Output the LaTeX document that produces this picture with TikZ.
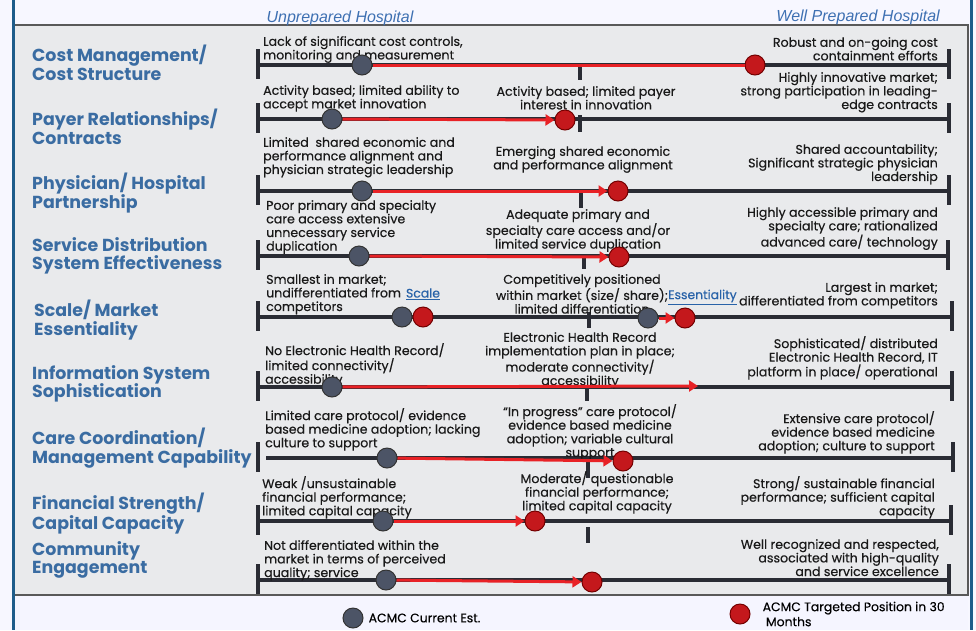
\documentclass[tikz,border=0pt]{standalone}
\usepackage{fontspec}
\setmainfont{Poppins}
\newfontfamily\descfont[FakeBold=0.35]{Poppins}
\newfontfamily\headfont{Liberation Sans}
\usetikzlibrary{arrows.meta,positioning}

\definecolor{catblue}{RGB}{58,108,162}
\definecolor{headblue}{RGB}{62,112,178}
\definecolor{linkblue}{RGB}{40,98,168}
\definecolor{panelgray}{RGB}{233,234,236}
\definecolor{barblack}{RGB}{42,44,52}
\definecolor{dotslate}{RGB}{76,84,102}
\definecolor{dotred}{RGB}{196,24,28}
\definecolor{movered}{RGB}{232,34,38}
\definecolor{frameblue}{RGB}{30,92,138}

\tikzset{
  bar/.style={line width=4.5pt, color=barblack},
  barmark/.style={line width=4.5pt, color=barblack},
  curdot/.style={circle, minimum size=20pt, inner sep=0pt, fill=dotslate, draw=black!80, line width=1pt},
  tgtdot/.style={circle, minimum size=20pt, inner sep=0pt, fill=dotred, draw=red!45!black, line width=1pt},
  move/.style={line width=3pt, color=movered, -{Triangle[length=9pt,width=11pt]}},
  catlabel/.style={anchor=north west, align=left, inner sep=0pt, text=catblue, font=\fontsize{17.4}{18.6}\selectfont\bfseries},
  desc/.style={inner sep=0pt, text=black!90, font=\descfont\fontsize{12.6}{13.6}\selectfont},
  ldesc/.style={desc, anchor=north west, align=left},
  mdesc/.style={desc, anchor=north, align=center},
  rdesc/.style={desc, anchor=north east, align=right},
  headlabel/.style={inner sep=0pt, text=headblue, font=\headfont\itshape\fontsize{16}{18}\selectfont},
  linklabel/.style={inner sep=0pt, text=linkblue, font=\descfont\fontsize{12.4}{13}\selectfont},
  legtext/.style={inner sep=0pt, align=left, font=\descfont\fontsize{12.4}{15}\selectfont}
}
\def\endmark(#1){\draw[barmark] ([yshift=16pt]#1) -- ([yshift=-14pt]#1);}

\begin{document}
\begin{tikzpicture}[x=1pt,y=-1pt]
  \useasboundingbox (0,0) rectangle (976,630);

  %%%%% FRAME %%%%%
  \fill[white!97!blue] (0,0) rectangle (976,630);
  \fill[blue!4!white] (13,595) rectangle (968,630);
  \draw[line width=1.5pt, color=black!65, fill=panelgray] (13,25) rectangle (968,595);
  \draw[line width=3pt, color=frameblue] (13,0) -- (13,630);
  \draw[line width=3pt, color=frameblue] (971,0) -- (971,630);

  \node[headlabel] (unprep) at (340,18) {Unprepared Hospital};
  \node[headlabel, anchor=east] (wellprep) at (940,17) {Well Prepared Hospital};

  %%%%% COST %%%%%
  \node[catlabel] (costcat) at (32,45) {Cost Management/\\Cost Structure};
  \coordinate (costL) at (258,65);
  \coordinate (costR) at (949,65);
  \draw[bar] (costL) -- (costR);
  \endmark(costL)
  \endmark(costR)
  \draw[barmark] (580,65) -- (580,80);
  \node[ldesc] (costlo) at (263,36) {Lack of significant cost controls,\\monitoring and measurement};
  \node[rdesc] (costhi) at (938,37) {Robust and on-going cost\\containment efforts};
  \node[curdot] (costA) at (362,65) {};
  \node[tgtdot] (costB) at (755,65) {};
  \draw[move, -] (costA) -- (costB);

  %%%%% PAYER %%%%%
  \node[catlabel] (payercat) at (32,109) {Payer Relationships/\\Contracts};
  \coordinate (payerL) at (258,119);
  \coordinate (payerR) at (949,119);
  \draw[bar] (payerL) -- (payerR);
  \endmark(payerL)
  \endmark(payerR)
  \draw[barmark] (580,115) -- (580,132);
  \node[ldesc] (payerlo) at (263,85) {Activity based; limited ability to\\accept market innovation};
  \node[mdesc] (payermid) at (586,86) {Activity based; limited payer\\interest in innovation};
  \node[rdesc] (payerhi) at (938,72) {Highly innovative market;\\strong participation in leading-\\edge contracts};
  \node[curdot] (payerA) at (332,119) {};
  \node[tgtdot] (payerB) at (565,120) {};
  \draw[move] (payerA) -- (payerB);

  %%%%% PHYSICIAN %%%%%
  \node[catlabel] (physcat) at (32,173) {Physician/ Hospital\\Partnership};
  \coordinate (physL) at (258,191);
  \coordinate (physR) at (949,191);
  \draw[bar] (physL) -- (physR);
  \endmark(physL)
  \endmark(physR)
  \draw[barmark] (581,191) -- (581,208);
  \node[ldesc] (physlo) at (263,137) {Limited\ \ shared economic and\\performance alignment and\\physician strategic leadership};
  \node[mdesc] (physmid) at (583,146) {Emerging shared economic\\and performance alignment};
  \node[rdesc] (physhi) at (938,144) {Shared accountability;\\Significant strategic physician\\leadership};
  \node[curdot] (physA) at (362,191) {};
  \node[tgtdot] (physB) at (618,191) {};
  \draw[move] (physA) -- (physB);

  %%%%% SERVICE %%%%%
  \node[catlabel] (servcat) at (32,237) {Service Distribution\\System Effectiveness};
  \coordinate (servL) at (258,256);
  \coordinate (servR) at (948,256);
  \draw[bar] (servL) -- (servR);
  \endmark(servL)
  \endmark(servR)
  \draw[barmark] (584,256) -- (584,269);
  \node[ldesc] (servlo) at (266,200) {Poor primary and specialty\\care access extensive\\unnecessary service\\duplication};
  \node[mdesc] (servmid) at (578,209) {Adequate primary and\\specialty care access and/or\\limited service duplication};
  \node[rdesc] (servhi) at (938,207) {Highly accessible primary and\\specialty care; rationalized\\advanced care/ technology};
  \node[curdot] (servA) at (359,256) {};
  \node[tgtdot] (servB) at (619,257) {};
  \draw[move] (servA) -- (servB);

  %%%%% SCALE %%%%%
  \node[catlabel] (scalecat) at (34,300) {Scale/ Market\\Essentiality};
  \coordinate (scaleL) at (258,317);
  \coordinate (scaleR) at (952,317);
  \draw[bar] (scaleL) -- (scaleR);
  \endmark(scaleL)
  \endmark(scaleR)
  \draw[barmark] (589,312) -- (589,328);
  \node[ldesc] (scalelo) at (266,274) {Smallest in market;\\undifferentiated from\\competitors};
  \node[mdesc] (scalemid) at (582,274) {Competitively positioned\\within market (size/ share);\\limited differentiation};
  \node[rdesc] (scalehi) at (938,282) {Largest in market;\\differentiated from competitors};
  \node[linklabel] (scalelink) at (423,294) {\underline{Scale}};
  \node[linklabel, anchor=west] (esslink) at (668,297) {\underline{Essentiality}};
  \node[curdot] (scaleA) at (402,317) {};
  \node[tgtdot] (scaleB) at (423,317) {};
  \node[curdot] (essA) at (648,318) {};
  \node[tgtdot] (essB) at (685,318) {};
  \draw[move] (essA) -- (essB);

  %%%%% INFORMATION %%%%%
  \node[catlabel] (infocat) at (32,365) {Information System\\Sophistication};
  \coordinate (infoL) at (258,387);
  \coordinate (infoR) at (952,387);
  \draw[bar] (infoL) -- (infoR);
  \endmark(infoL)
  \endmark(infoR)
  \draw[barmark] (587,387) -- (587,401);
  \node[ldesc] (infolo) at (265,343) {No Electronic Health Record/\\limited connectivity/\\accessibility};
  \node[mdesc] (infomid) at (580,332) {Electronic Health Record\\implementation plan in place;\\moderate connectivity/\\accessibility};
  \node[rdesc] (infohi) at (938,336) {Sophisticated/ distributed\\Electronic Health Record, IT\\platform in place/ operational};
  \node[curdot] (infoA) at (332,387) {};
  \coordinate (infoB) at (698,386);
  \draw[move] (infoA) -- (infoB);

  %%%%% CARE %%%%%
  \node[catlabel] (carecat) at (32,428) {Care Coordination/\\Management Capability};
  \coordinate (careL) at (258,458);
  \coordinate (careR) at (953,458);
  \draw[bar] ([xshift=8pt]careL) -- (careR);
  \endmark(careL)
  \endmark(careR)
  \draw[barmark] (588,458) -- (588,478);
  \node[ldesc] (carelo) at (265,408) {Limited care protocol/ evidence\\based medicine adoption; lacking\\culture to support};
  \node[mdesc] (caremid) at (590,404) {“In progress” care protocol/\\evidence based medicine\\adoption; variable cultural\\support};
  \node[rdesc] (carehi) at (935,411) {Extensive care protocol/\\evidence based medicine\\adoption; culture to support};
  \node[curdot] (careA) at (387,458) {};
  \node[tgtdot] (careB) at (623,461) {};
  \draw[move] (careA) -- (careB);

  %%%%% FINANCIAL %%%%%
  \node[catlabel] (fincat) at (32,493) {Financial Strength/\\Capital Capacity};
  \coordinate (finL) at (258,521);
  \coordinate (finR) at (951,521);
  \draw[bar] (finL) -- (finR);
  \endmark(finL)
  \endmark(finR)
  \draw[barmark] (588,527) -- (588,543);
  \node[ldesc] (finlo) at (262,476) {Weak /unsustainable\\financial performance;\\limited capital capacity};
  \node[mdesc] (finmid) at (597,471) {Moderate/ questionable\\financial performance;\\limited capital capacity};
  \node[rdesc] (finhi) at (935,476) {Strong/ sustainable financial\\performance; sufficient capital\\capacity};
  \node[curdot] (finA) at (383,521) {};
  \node[tgtdot] (finB) at (535,521) {};
  \draw[move] (finA) -- (finB);

  %%%%% COMMUNITY %%%%%
  \node[catlabel] (commcat) at (32,541) {Community\\Engagement};
  \coordinate (commL) at (258,580);
  \coordinate (commR) at (949,580);
  \draw[bar] (commL) -- (commR);
  \endmark(commL)
  \endmark(commR)
  \node[ldesc] (commlo) at (264,540) {Not differentiated within the\\market in terms of perceived\\quality; service};
  \node[rdesc] (commhi) at (939,539) {Well recognized and respected,\\associated with high-quality\\and service excellence};
  \node[curdot] (commA) at (386,580) {};
  \node[tgtdot] (commB) at (592,582) {};
  \draw[move] (commA) -- (commB);

  %%%%% LEGEND %%%%%
  \node[curdot] (legcur) at (353,618) {};
  \node[legtext, right=5pt of legcur] (legcurtext) {ACMC Current Est.};
  \node[tgtdot] (legtgt) at (740,614) {};
  \node[legtext, right=12pt of legtgt] (legtgttext) {ACMC Targeted Position in 30\\\ Months};
\end{tikzpicture}
\end{document}
